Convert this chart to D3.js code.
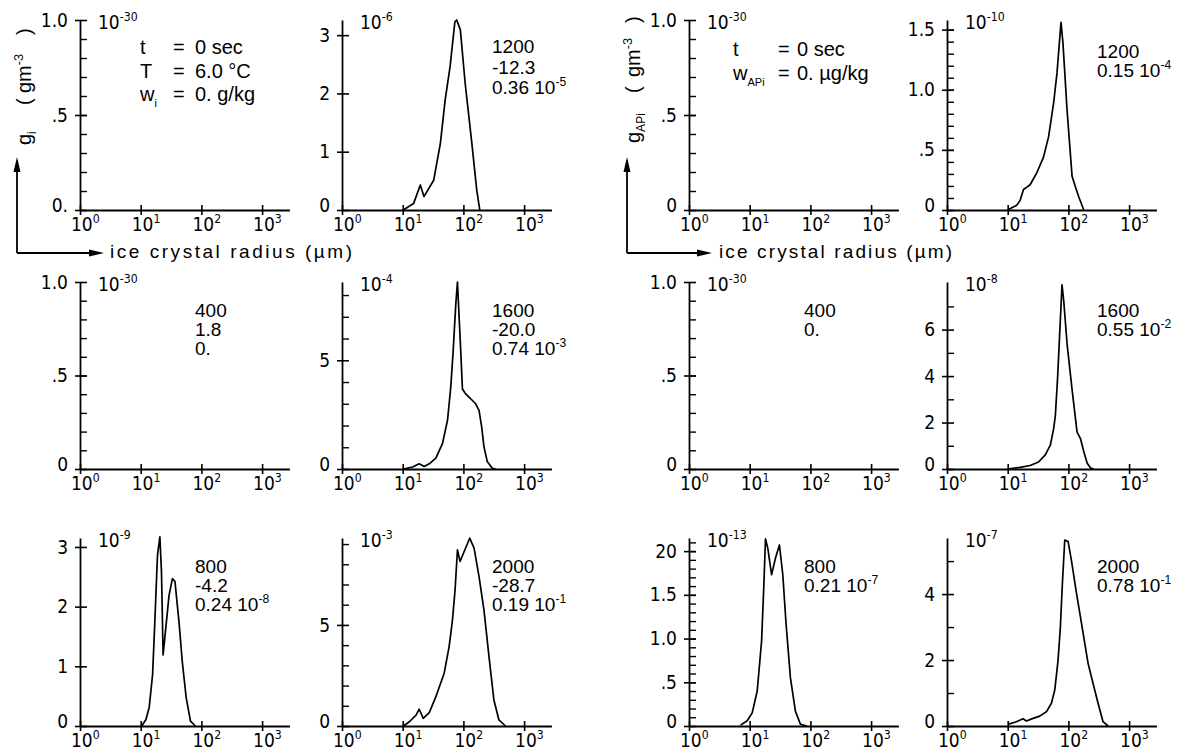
<!DOCTYPE html>
<html>
<head>
<meta charset="utf-8">
<script src="https://cdn.jsdelivr.net/npm/d3@7"></script>
<style>
body { margin: 0; background: #fff; }
text { font-family: "Liberation Sans Narrow", "DejaVu Sans Condensed", "Liberation Sans", sans-serif; fill: #000; }
text.ann { font-family: "Liberation Sans", "DejaVu Sans", sans-serif; }
</style>
</head>
<body>
<script>
// ---- data ----
const timeSec = [0, 1200, 400, 1600, 800, 2000];
const tempC = ["6.0", "-12.3", "1.8", "-20.0", "-4.2", "-28.7"];
const iceWaterMant = ["0.", "0.36", "0.", "0.74", "0.24", "0.19"];
const iceWaterExp = ["", "-5", "", "-3", "-8", "-1"];
const apIceMant = ["0.", "0.15", "0.", "0.55", "0.21", "0.78"];
const apIceExp = ["", "-4", "", "-2", "-7", "-1"];
const iceScaleExp = ["-30", "-6", "-30", "-4", "-9", "-3"];
const apScaleExp = ["-30", "-10", "-30", "-8", "-13", "-7"];

const xTickValues = [1, 10, 100, 1000];
const xTickExp = ["0", "1", "2", "3"];

// ice crystal mass distribution (radius in um, value in panel units)
const iceR1200 = [10.2, 15.1, 19.5, 22.4, 32.4, 41.7, 50.1, 60.3, 72.4, 77.6, 89.1, 107, 138, 166, 186];
const iceG1200 = [0, 0.11, 0.43, 0.23, 0.51, 1.14, 1.89, 2.46, 3.23, 3.26, 3.09, 2.17, 1.14, 0.34, 0];
const iceR1600 = [10.3, 14.6, 18.7, 22.6, 27.4, 35.2, 45.3, 54.7, 61.9, 67.8, 74.8, 79.8, 90.4, 96.4, 109, 132, 159, 181, 200, 218, 247, 299, 339];
const iceG1600 = [0, 0.09, 0.24, 0.12, 0.24, 0.5, 1.18, 2.24, 3.76, 5.42, 7.55, 8.6, 5.42, 3.68, 3.45, 3.23, 3.0, 2.7, 1.94, 1.03, 0.35, 0.03, 0];
const iceR800 = [10.4, 12.2, 13.8, 15.7, 17.1, 18.9, 20.7, 22.0, 23.4, 25.9, 29.3, 33.3, 36.7, 42.7, 48.4, 56.2, 66.2, 79.8];
const iceG800 = [0, 0.11, 0.31, 0.86, 1.75, 2.86, 3.17, 2.58, 1.19, 1.64, 2.19, 2.47, 2.42, 1.75, 1.08, 0.47, 0.08, 0];
const iceR2000 = [10.3, 12.9, 16.6, 18.7, 21.8, 27.4, 35.2, 48.2, 58.2, 66.1, 72.9, 79.8, 88.1, 103, 127, 150, 181, 218, 264, 318, 385, 494];
const iceG2000 = [0, 0.21, 0.54, 0.83, 0.38, 0.66, 1.45, 2.61, 3.93, 5.25, 6.73, 8.71, 8.14, 8.63, 9.29, 8.8, 7.39, 5.74, 3.43, 1.29, 0.3, 0];

// aerosol mass inside ice crystals
const apR1200 = [9.9, 14.1, 16.0, 18.2, 20.7, 23.4, 30.2, 38.9, 47.2, 57.1, 64.9, 75.5, 81.3, 95.1, 115, 131, 148, 179];
const apG1200 = [0, 0.04, 0.08, 0.17, 0.19, 0.21, 0.31, 0.44, 0.61, 0.89, 1.14, 1.56, 1.39, 0.83, 0.28, 0.19, 0.11, 0];
const apR1600 = [9.9, 16.0, 23.4, 32.2, 41.6, 50.4, 57.1, 61.0, 66.5, 71.8, 78.5, 83.8, 95.1, 115, 139, 158, 179, 204, 232, 263];
const apG1600 = [0, 0.07, 0.15, 0.3, 0.61, 1.03, 1.73, 2.3, 3.97, 5.8, 7.93, 7.23, 5.39, 3.42, 1.59, 1.31, 0.75, 0.25, 0.04, 0];
const apR800 = [7.06, 9.1, 11.0, 13.3, 15.7, 17.1, 18.2, 19.9, 22.9, 26.6, 30.9, 35.1, 39.8, 46.9, 56.6, 68.5, 88.1];
const apG800 = [0.01, 0.06, 0.15, 0.4, 0.97, 1.61, 2.14, 2.03, 1.73, 1.92, 2.07, 1.73, 1.16, 0.55, 0.17, 0.02, 0];
const apR2000 = [10.1, 13.9, 17.9, 20.3, 26.2, 33.7, 43.4, 52.5, 59.6, 67.6, 73.8, 79.6, 87.1, 98.9, 112, 136, 175, 211, 255, 308, 372, 451];
const apG2000 = [0.05, 0.13, 0.22, 0.15, 0.23, 0.3, 0.43, 0.69, 1.09, 2.0, 3.01, 4.32, 5.64, 5.59, 5.03, 4.02, 2.81, 1.9, 1.29, 0.69, 0.13, 0];

// by time index (0, 1200, 400, 1600, 800, 2000)
const iceR = [[], iceR1200, [], iceR1600, iceR800, iceR2000];
const iceG = [[], iceG1200, [], iceG1600, iceG800, iceG2000];
const apR = [[], apR1200, [], apR1600, apR800, apR2000];
const apG = [[], apG1200, [], apG1600, apG800, apG2000];

// y axes, row-major panel order
const yMaxes = [1, 3.26, 1, 1.58, 1, 8.6, 1, 8.05, 3.15, 9.3, 2.15, 5.7];
const yMajor = [[0, .5, 1], [0, 1, 2, 3], [0, .5, 1], [0, .5, 1, 1.5],
                [0, .5, 1], [0, 5], [0, .5, 1], [0, 2, 4, 6],
                [0, 1, 2, 3], [0, 5], [0, .5, 1, 1.5, 2], [0, 2, 4]];
const yMajorLabels = [["0.", ".5", "1.0"], ["0", "1", "2", "3"], ["0", ".5", "1.0"], ["0", ".5", "1.0", "1.5"],
                      ["0", ".5", "1.0"], ["0", "5"], ["0", ".5", "1.0"], ["0", "2", "4", "6"],
                      ["0", "1", "2", "3"], ["0", "5"], ["0", ".5", "1.0", "1.5", "20"], ["0", "2", "4"]];
const tenths = n => d3.range(1, n).map(i => i / 10);
const yMinor = [tenths(10), [], tenths(10), tenths(16),
                tenths(10), [1, 2, 3, 4, 6, 7, 8], tenths(10), [1, 3, 5, 7],
                [], [1, 2, 3, 4, 6, 7, 8, 9], tenths(22), [1, 3, 5]];

// ---- layout ----
const W = 1187, H = 751;
const colX = [80, 342, 689, 947];
const rowBase = [210, 469, 726];
const rowH = [190, 187, 188];
const decade = 60.7;
const xDecades = 3.45;
const tickFont = 19;
const annFont = 19;

const svg = d3.select("body").append("svg")
    .attr("width", W).attr("height", H)
    .attr("viewBox", [0, 0, W, H]);

function sup(t, base, s, size) {
    t.append("tspan").text(base);
    if (s) t.append("tspan").attr("dy", -size * 0.4).attr("font-size", size * 0.64).text(s);
}

const line = d3.line();

for (let r = 0; r < 3; r++) {
    for (let c = 0; c < 4; c++) {
        const p = r * 4 + c;
        const ti = r * 2 + (c % 2);
        const ice = c < 2;
        const x0 = colX[c], base = rowBase[r], top = base - rowH[r];

        const x = d3.scaleLog().domain([1, Math.pow(10, xDecades)]).range([x0, x0 + decade * xDecades]);
        const y = d3.scaleLinear().domain([0, yMaxes[p]]).range([base, top]);

        const g = svg.append("g");

        // x axis
        const gx = g.append("g")
            .attr("transform", `translate(0,${base})`)
            .call(d3.axisBottom(x).tickValues(xTickValues).tickFormat(() => "").tickSizeInner(5).tickSizeOuter(0));
        gx.selectAll(".tick line").attr("y1", -5).attr("stroke-width", 1.6);
        gx.select(".domain").attr("stroke-width", 1.8);
        gx.selectAll(".tick text").remove();
        xTickValues.forEach((v, i) => {
            const t = gx.append("text").attr("x", x(v) - 9).attr("y", 21)
                .attr("text-anchor", "start").attr("font-size", tickFont);
            sup(t, "10", xTickExp[i], tickFont);
        });

        // y axis, major ticks crossing
        const gy = g.append("g")
            .attr("transform", `translate(${x0},0)`)
            .call(d3.axisLeft(y).tickValues(yMajor[p]).tickFormat((d, i) => yMajorLabels[p][i])
                .tickSizeInner(5).tickSizeOuter(0).tickPadding(7));
        gy.attr("font-size", tickFont).attr("font-family", null);
        gy.selectAll(".tick line").attr("x1", 7).attr("stroke-width", 1.6);
        gy.selectAll(".tick text").filter(d => d === 0).attr("dy", "0.1em");
        gy.select(".domain").attr("stroke-width", 1.8);

        // minor ticks inside
        const gm = g.append("g")
            .attr("transform", `translate(${x0},0)`)
            .call(d3.axisRight(y).tickValues(yMinor[p]).tickFormat(() => "").tickSize(7).tickSizeOuter(0));
        gm.select(".domain").remove();
        gm.selectAll(".tick line").attr("stroke-width", 1.4);

        // scale factor label
        const st = g.append("text").attr("x", x0 + 18).attr("y", top + 9).attr("font-size", tickFont);
        sup(st, "10", ice ? iceScaleExp[ti] : apScaleExp[ti], tickFont);

        // curve
        const rs = ice ? iceR[ti] : apR[ti];
        const vs = ice ? iceG[ti] : apG[ti];
        if (rs.length) {
            g.append("path")
                .attr("d", line(rs.map((rv, i) => [x(rv), y(vs[i])])))
                .attr("fill", "none").attr("stroke", "#000").attr("stroke-width", 1.7)
                .attr("stroke-linejoin", "round");
        }

        // annotations
        if (ti === 0) {
            const ax = ice ? x0 + 60 : x0 + 44;
            const eqx = ice ? x0 + 93 : x0 + 89;
            const vx = ice ? x0 + 115 : x0 + 108;
            const bl = ice ? [top + 34, top + 58, top + 81] : [top + 36, top + 60];
            const rows = ice
                ? [["t", "", timeSec[ti] + " sec"], ["T", "", tempC[ti] + " \u00B0C"], ["w", "i", iceWaterMant[ti] + "  g/kg"]]
                : [["t", "", timeSec[ti] + " sec"], ["w", "APi", apIceMant[ti] + "  \u00B5g/kg"]];
            rows.forEach((row, k) => {
                const t = g.append("text").attr("class", "ann").attr("x", ax).attr("y", bl[k]).attr("font-size", 20);
                t.append("tspan").text(row[0]);
                if (row[1]) t.append("tspan").attr("dy", 6).attr("font-size", 11).text(row[1]);
                g.append("text").attr("class", "ann").attr("x", eqx).attr("y", bl[k]).attr("font-size", 20).text("=");
                g.append("text").attr("class", "ann").attr("x", vx).attr("y", bl[k]).attr("font-size", 20).text(row[2]);
            });
        } else {
            const ax = x0 + (c % 2 ? 150 : 115);
            const first = top + (r === 0 ? (c === 1 ? 33 : 38) : 35);
            const step = r === 0 && c === 1 ? 20.5 : 19;
            const lines = ice
                ? [[String(timeSec[ti]), ""], [tempC[ti], ""], [iceWaterMant[ti] + (iceWaterExp[ti] ? " 10" : ""), iceWaterExp[ti]]]
                : [[String(timeSec[ti]), ""], [apIceMant[ti] + (apIceExp[ti] ? " 10" : ""), apIceExp[ti]]];
            lines.forEach((ln, k) => {
                const t = g.append("text").attr("class", "ann").attr("x", ax).attr("y", first + k * step).attr("font-size", annFont);
                sup(t, ln[0], ln[1], annFont);
            });
        }
    }
}

// rotated y label: pieces placed along the axis (local x = distance upward)
function yLabel(xb, yb, sub, parenAt, gmAt, closeAt) {
    const gl = svg.append("g").attr("transform", `translate(${xb},${yb}) rotate(-90)`);
    const a = gl.append("text").attr("class", "ann").attr("x", 0).attr("font-size", 20);
    a.append("tspan").text("g");
    a.append("tspan").attr("dy", 5).attr("font-size", 12).text(sub);
    gl.append("text").attr("class", "ann").attr("x", parenAt).attr("font-size", 20).text("(");
    const b = gl.append("text").attr("class", "ann").attr("x", gmAt).attr("font-size", 20);
    sup(b, "gm", "-3", 20);
    gl.append("text").attr("class", "ann").attr("x", closeAt).attr("font-size", 20).text(")");
}
yLabel(31, 145, "i", 40, 52, 110);
yLabel(640, 143, "APi", 50, 66, 120);

function arrows(xv, tipX, textX, textLen) {
    const yc = 253;
    svg.append("path").attr("d", `M${xv},${yc}V168M${xv},${yc}H${tipX - 12}`)
        .attr("fill", "none").attr("stroke", "#000").attr("stroke-width", 1.8);
    svg.append("path").attr("d", `M${xv},157L${xv - 3.5},172L${xv + 3.5},172Z`).attr("fill", "#000");
    svg.append("path").attr("d", `M${tipX},${yc}L${tipX - 15},${yc - 3.5}L${tipX - 15},${yc + 3.5}Z`).attr("fill", "#000");
    svg.append("text").attr("class", "ann").attr("x", textX).attr("y", 258).attr("font-size", 19)
        .attr("textLength", textLen).attr("lengthAdjust", "spacing")
        .text("ice crystal radius (\u00B5m)");
}
arrows(17, 104, 110, 242);
arrows(627, 712, 719, 233);
</script>
</body>
</html>
